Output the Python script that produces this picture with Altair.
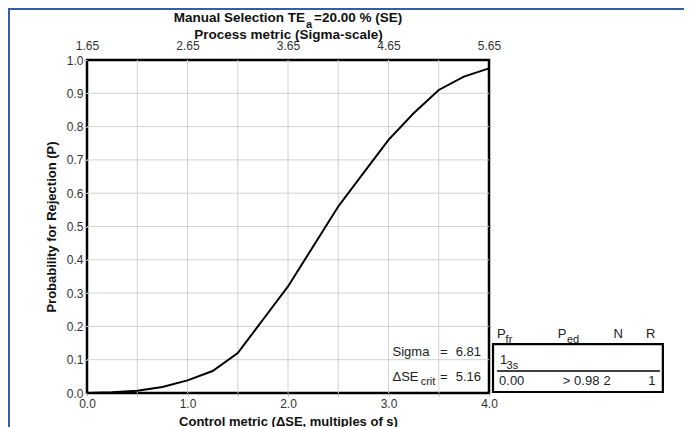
import altair as alt
import pandas as pd

# ---- data ----
delta_se = [0.0, 0.25, 0.5, 0.75, 1.0, 1.25, 1.5, 1.75, 2.0, 2.25, 2.5, 2.75, 3.0, 3.25, 3.5, 3.75, 4.0]
p_reject = [0.0, 0.002, 0.007, 0.018, 0.038, 0.066, 0.12, 0.22, 0.32, 0.44, 0.56, 0.66, 0.76, 0.84, 0.91, 0.95, 0.975]

x_grid_values = [0.0, 0.5, 1.0, 1.5, 2.0, 2.5, 3.0, 3.5, 4.0]
y_tick_values = [0.0, 0.1, 0.2, 0.3, 0.4, 0.5, 0.6, 0.7, 0.8, 0.9, 1.0]
sigma_ticks = [1.65, 2.65, 3.65, 4.65, 5.65]
sigma_offset = 1.65  # sigma = delta SE + 1.65

title_parts = ["Manual Selection  TE", "a", "=20.00 % (SE)"]
sigma_value = "6.81"
dse_crit_value = "5.16"
rule_main = "1"
rule_sub = "3s"
pfr_value = "0.00"
ped_value = "> 0.98"
n_value = "2"
r_value = "1"

FONT = "Liberation Sans"
TXT = "#222222"
GRID = "#d2d2d2"

# ---- annotation placement (in data units of the bottom/left scales) ----
main_left = pd.DataFrame({
    "t": ["Sigma", "ΔSE", "P", "P", rule_main, pfr_value, ped_value, n_value, r_value],
    "x": [3.04, 3.04, 4.08, 4.685, 4.11, 4.10, 4.735, 5.14, 5.585],
    "y": [0.123, 0.048, 0.178, 0.178, 0.100, 0.036, 0.036, 0.036, 0.036],
})
main_center = pd.DataFrame({
    "t": ["=", "=", "N", "R"],
    "x": [3.55, 3.55, 5.285, 5.61],
    "y": [0.123, 0.048, 0.178, 0.178],
})
main_right = pd.DataFrame({
    "t": [sigma_value, dse_crit_value],
    "x": [3.92, 3.92],
    "y": [0.123, 0.048],
})
subs = pd.DataFrame({
    "t": ["crit", "fr", "ed", rule_sub],
    "x": [3.32, 4.165, 4.775, 4.175],
    "y": [0.032, 0.160, 0.160, 0.081],
})
box_df = pd.DataFrame({"x": [4.04], "x2": [5.73], "y": [0.147], "y2": [0.003]})
line_df = pd.DataFrame({"x": [4.08], "x2": [5.70], "y": [0.066]})

curve_df = pd.DataFrame({"dse": delta_se, "p": p_reject})
sigma_df = pd.DataFrame({"s": sigma_ticks})
xgrid_df = pd.DataFrame({"gx": x_grid_values})
ygrid_df = pd.DataFrame({"gy": y_tick_values})
one_row = pd.DataFrame({"k": [0]})

xscale = alt.Scale(domain=[0, 4], nice=False, zero=False)
yscale = alt.Scale(domain=[0, 1], nice=False, zero=True)

axis_common = dict(domain=False, grid=False, labelFont=FONT, labelFontSize=12,
                   labelColor="#333333", titleFont=FONT, titleFontWeight="bold",
                   titleColor="#111111", labelFlush=False)

# interior grid lines (the plot frame is drawn by the view stroke)
xgrid = alt.Chart(xgrid_df).transform_filter("datum.gx > 0 && datum.gx < 4").mark_rule(
    color=GRID, strokeWidth=1).encode(x=alt.X("gx:Q", scale=xscale, axis=None))
ygrid = alt.Chart(ygrid_df).transform_filter("datum.gy > 0 && datum.gy < 1").mark_rule(
    color=GRID, strokeWidth=1).encode(y=alt.Y("gy:Q", scale=yscale, axis=None))

curve = alt.Chart(curve_df).mark_line(color="black", strokeWidth=2, clip=False).encode(
    x=alt.X("dse:Q", scale=xscale,
            axis=alt.Axis(orient="bottom", values=x_grid_values,
                          labelExpr="datum.value % 1 === 0 ? format(datum.value, '.1f') : ''",
                          title="Control metric (ΔSE, multiples of s)",
                          ticks=True, tickSize=3, tickColor="#bbbbbb",
                          labelPadding=2, titleFontSize=13, titlePadding=6,
                          **axis_common)),
    y=alt.Y("p:Q", scale=yscale,
            axis=alt.Axis(orient="left", values=y_tick_values, format=".1f",
                          title="Probability for Rejection (P)",
                          ticks=True, tickSize=3, tickColor="#bbbbbb",
                          labelPadding=1, titleFontSize=13, titlePadding=8,
                          **axis_common)),
)

# top axis: same x scale, labelled on the sigma scale
top_axis = alt.Chart(sigma_df).transform_calculate(
    d=f"datum.s - {sigma_offset}"
).mark_point(opacity=0).encode(
    x=alt.X("d:Q", scale=xscale,
            axis=alt.Axis(orient="top", values=[s - sigma_offset for s in sigma_ticks],
                          labelExpr=f"format(datum.value + {sigma_offset}, '.2f')",
                          title="Process metric (Sigma-scale)",
                          ticks=False, labelPadding=8, titleFontSize=13.5, titlePadding=-2,
                          **axis_common)),
    y=alt.value(0),
)

def text_layer(df, align, size, baseline="middle"):
    return alt.Chart(df).mark_text(align=align, baseline=baseline, font=FONT,
                                   fontSize=size, color=TXT, clip=False).encode(
        x=alt.X("x:Q", scale=xscale, axis=None),
        y=alt.Y("y:Q", scale=yscale, axis=None), text="t:N")

t_left = text_layer(main_left, "left", 13)
t_center = text_layer(main_center, "center", 13)
t_right = text_layer(main_right, "right", 13)
t_sub = text_layer(subs, "left", 11)

box = alt.Chart(box_df).mark_rect(fill=None, fillOpacity=0, stroke="black", strokeWidth=2.2, clip=False).encode(
    x=alt.X("x:Q", scale=xscale, axis=None), x2="x2:Q",
    y=alt.Y("y:Q", scale=yscale, axis=None), y2="y2:Q")
uline = alt.Chart(line_df).mark_rule(color="black", strokeWidth=1.6, clip=False).encode(
    x=alt.X("x:Q", scale=xscale, axis=None), x2="x2:Q",
    y=alt.Y("y:Q", scale=yscale, axis=None))

# chart title as text marks (so the subscript "a" can be drawn)
title_a = alt.Chart(one_row).mark_text(align="right", baseline="middle", font=FONT, fontSize=13.5,
                                       fontWeight="bold", color="#111111").encode(
    x=alt.value(218), y=alt.value(-42), text=alt.value(title_parts[0]))
title_b = alt.Chart(one_row).mark_text(align="left", baseline="middle", font=FONT, fontSize=11,
                                       fontWeight="bold", color="#111111").encode(
    x=alt.value(219), y=alt.value(-35), text=alt.value(title_parts[1]))
title_c = alt.Chart(one_row).mark_text(align="left", baseline="middle", font=FONT, fontSize=13.5,
                                       fontWeight="bold", color="#111111").encode(
    x=alt.value(227), y=alt.value(-42), text=alt.value(title_parts[2]))

# page frame lines (blue, top and left edges of the screenshot)
frame_left = alt.Chart(one_row).mark_rule(color="#3a5ba8", strokeWidth=2).encode(
    x=alt.value(-78), y=alt.value(-51), y2=alt.value(420))
frame_top = alt.Chart(one_row).mark_rule(color="#3a5ba8", strokeWidth=2).encode(
    x=alt.value(-79), x2=alt.value(700), y=alt.value(-51))

chart = alt.layer(
    xgrid, ygrid, curve, top_axis, box, uline, t_left, t_center, t_right, t_sub,
    title_a, title_b, title_c, frame_left, frame_top
).resolve_axis(x="independent", y="independent").properties(
    width=402, height=333,
    autosize=alt.AutoSizeParams(type="none"),
    padding={"left": 79, "top": 52, "right": 195, "bottom": 34},
).configure(background="white").configure_view(stroke="black", strokeWidth=2.5)

chart.save("out.html", embed_options={"renderer": "svg", "actions": False})
